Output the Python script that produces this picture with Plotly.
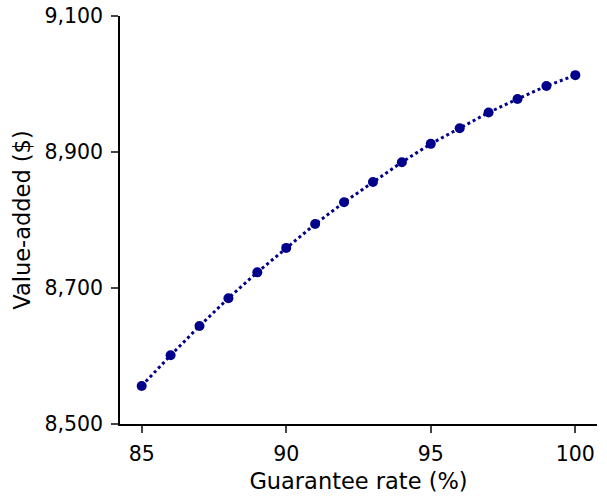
import plotly.graph_objects as go

guarantee_rate = [85, 86, 87, 88, 89, 90, 91, 92, 93, 94, 95, 96, 97, 98, 99, 100]
value_added = [8556, 8601, 8644, 8685, 8723, 8759, 8794, 8826, 8856, 8885, 8912, 8935, 8958, 8978, 8997, 9013]
x_ticks = [85, 90, 95, 100]
y_ticks = [8500, 8700, 8900, 9100]

fig = go.Figure()
fig.add_trace(go.Scatter(
    x=guarantee_rate, y=value_added, mode="lines+markers",
    line=dict(color="#00008B", width=3, dash="dot"),
    marker=dict(color="#00008B", size=10),
    showlegend=False,
))

font = "DejaVu Sans, sans-serif"
fig.update_layout(
    width=607, height=496,
    margin=dict(l=120, r=10, t=16, b=72, autoexpand=False),
    paper_bgcolor="white", plot_bgcolor="white",
    font=dict(family=font, color="black"),
)
fig.update_xaxes(
    range=[84.25, 100.75], tickvals=x_ticks, ticks="outside", ticklen=7, tickwidth=1.5,
    ticklabelstandoff=4, automargin=False, ticklabeloverflow="allow",
    showline=True, linecolor="black", linewidth=1.5, showgrid=False, zeroline=False,
    tickfont=dict(size=20.5), title=dict(text="Guarantee rate (%)", font=dict(size=22.5), standoff=8),
)
fig.update_yaxes(
    range=[8500, 9100], tickvals=y_ticks, tickformat=",", ticks="outside", ticklen=7, tickwidth=1.5,
    ticklabelstandoff=4, automargin=False, ticklabeloverflow="allow",
    showline=True, linecolor="black", linewidth=1.5, showgrid=False, zeroline=False,
    tickfont=dict(size=20.5), title=dict(text="Value-added ($)", font=dict(size=22.5), standoff=8),
)
fig.write_html("out.html")
